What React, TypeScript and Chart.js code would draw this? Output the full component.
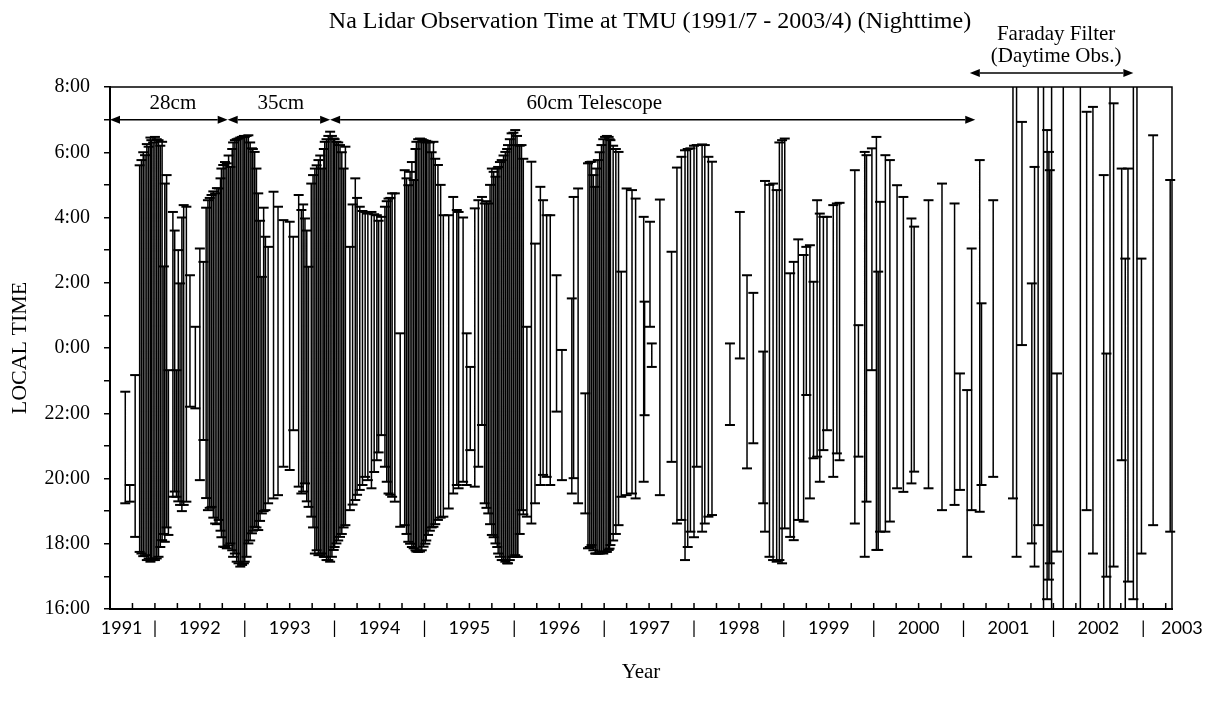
import React, { useEffect, useRef } from 'react';
import { Chart, registerables } from 'chart.js';

Chart.register(...registerables);

// Observation nights: date (decimal year), start and end hour
// (hours after midnight of the evening's date; values above 24 are the next morning)
const obsDate = [
  1991.67, 1991.72, 1991.78, 1991.85, 1991.89, 1991.93, 1991.96, 1992.00, 1992.04, 1992.08,
  1992.11, 1992.15, 1992.20, 1992.24, 1992.28, 1992.32, 1992.35, 1992.39, 1992.45, 1992.50,
  1992.54, 1992.59, 1992.63, 1992.67, 1992.71, 1992.76, 1992.80, 1992.84, 1992.89, 1992.93,
  1992.97, 1993.00, 1993.04, 1993.08, 1993.11, 1993.15, 1993.19, 1993.23, 1993.26, 1993.32,
  1993.37, 1993.43, 1993.50, 1993.54, 1993.60, 1993.63, 1993.67, 1993.71, 1993.74, 1993.78,
  1993.82, 1993.86, 1993.89, 1993.95, 1993.99, 1994.02, 1994.06, 1994.12, 1994.17, 1994.23,
  1994.28, 1994.34, 1994.37, 1994.41, 1994.47, 1994.52, 1994.56, 1994.60, 1994.64, 1994.67,
  1994.73, 1994.78, 1994.82, 1994.88, 1994.91, 1994.95, 1994.99, 1995.04, 1995.10, 1995.15,
  1995.21, 1995.27, 1995.32, 1995.36, 1995.38, 1995.47, 1995.51, 1995.56, 1995.60, 1995.64,
  1995.67, 1995.71, 1995.75, 1995.79, 1995.82, 1995.86, 1995.90, 1995.93, 1995.97, 1996.01,
  1996.04, 1996.08, 1996.14, 1996.19, 1996.23, 1996.29, 1996.32, 1996.36, 1996.40, 1996.47,
  1996.53, 1996.64, 1996.66, 1996.71, 1996.79, 1996.82, 1996.86, 1996.90, 1996.93, 1996.97,
  1997.01, 1997.05, 1997.07, 1997.16, 1997.19, 1997.25, 1997.31, 1997.35, 1997.44, 1997.45,
  1997.51, 1997.53, 1997.62, 1997.75, 1997.81, 1997.86, 1997.90, 1997.96, 1998.03, 1998.09,
  1998.12, 1998.16, 1998.20, 1998.40, 1998.51, 1998.59, 1998.66, 1998.77, 1998.79, 1998.88,
  1998.92, 1998.98, 1999.01, 1999.07, 1999.11, 1999.16, 1999.22, 1999.25, 1999.29, 1999.33,
  1999.37, 1999.40, 1999.44, 1999.48, 1999.55, 1999.59, 1999.62, 1999.79, 1999.83, 1999.90,
  1999.92, 1999.98, 2000.03, 2000.05, 2000.07, 2000.13, 2000.18, 2000.26, 2000.33, 2000.42,
  2000.45, 2000.61, 2000.76, 2000.90, 2000.96, 2001.04, 2001.09, 2001.18, 2001.20, 2001.33,
  2001.55, 2001.59, 2001.65, 2001.76, 2001.79, 2001.83, 2001.89, 2001.93, 2001.95, 2001.96,
  2001.98, 2002.04, 2002.11, 2002.30, 2002.37, 2002.44, 2002.56, 2002.59, 2002.63, 2002.67,
  2002.76, 2002.80, 2002.83, 2002.89, 2002.93, 2002.98, 2003.11, 2003.30,
  // nights inside the dense winter clusters
  1991.83, 1991.87, 1991.91, 1991.95, 1991.98, 1992.02, 1992.06, 1992.10, 1992.13, 1992.22,
  1992.26, 1992.30, 1992.57, 1992.61, 1992.65, 1992.69, 1992.73, 1992.74, 1992.78, 1992.82,
  1992.86, 1992.87, 1992.91, 1992.95, 1992.99, 1993.02, 1993.06, 1993.09, 1993.13, 1993.17,
  1993.21, 1993.65, 1993.69, 1993.76, 1993.80, 1993.84, 1993.88, 1993.91, 1993.93, 1993.97,
  1994.00, 1994.04, 1994.08, 1994.10, 1994.20, 1994.25, 1994.31, 1994.44, 1994.49, 1994.58,
  1994.62, 1994.80, 1994.84, 1994.86, 1994.90, 1994.93, 1994.97, 1995.01, 1995.02, 1995.06,
  1995.08, 1995.12, 1995.18, 1995.43, 1995.69, 1995.73, 1995.77, 1995.81, 1995.84, 1995.88,
  1995.92, 1995.95, 1995.99, 1996.03, 1996.06, 1996.10, 1996.84, 1996.88, 1996.91, 1996.95,
  1996.99, 1997.03, 1997.06, 1997.10, 1997.13, 1997.93, 1998.00, 1998.84, 1998.95,
];

const obsStart = [
  19.24, 19.29, 18.21, 17.70, 17.65, 17.55, 17.50, 17.50, 17.60, 18.11,
  18.06, 18.27, 19.44, 19.44, 19.19, 19.19, 19.29, 22.20, 22.15, 19.95,
  21.18, 19.03, 19.13, 18.62, 18.73, 17.91, 17.86, 18.01, 17.70, 17.40,
  17.35, 17.45, 18.01, 18.32, 18.52, 18.42, 18.93, 19.03, 19.24, 19.39,
  19.49, 20.36, 20.26, 21.48, 19.75, 19.54, 19.85, 19.13, 18.83, 17.70,
  17.65, 17.70, 17.60, 17.45, 17.81, 18.01, 18.21, 18.57, 19.03, 19.34,
  19.65, 20.05, 19.95, 19.70, 20.56, 21.33, 20.36, 19.54, 19.44, 19.29,
  18.52, 18.57, 18.06, 17.86, 17.76, 17.76, 17.91, 18.27, 18.52, 18.73,
  18.83, 19.08, 19.54, 19.80, 19.70, 19.80, 20.87, 19.75, 20.36, 21.64,
  19.24, 18.93, 18.27, 18.01, 17.70, 17.50, 17.45, 17.40, 17.60, 17.65,
  17.60, 19.03, 18.83, 18.62, 19.24, 19.80, 20.11, 20.05, 19.80, 22.05,
  19.95, 19.54, 20.01, 19.24, 18.93, 17.86, 17.96, 17.70, 17.70, 17.76,
  17.76, 17.81, 17.96, 18.57, 19.44, 19.49, 19.54, 19.39, 19.90, 21.94,
  24.65, 23.42, 19.49, 20.51, 18.62, 18.73, 17.50, 18.37, 20.36, 18.37,
  18.62, 18.83, 18.88, 21.64, 23.68, 20.31, 21.08, 19.24, 18.37, 17.50,
  17.45, 17.40, 18.47, 18.21, 18.11, 18.73, 18.68, 22.56, 19.39, 20.62,
  20.67, 19.90, 20.87, 21.48, 20.05, 20.77, 20.56, 18.62, 20.67, 17.60,
  19.29, 23.32, 17.81, 17.81, 18.37, 18.37, 18.68, 19.70, 19.59, 19.85,
  20.21, 19.70, 19.03, 19.19, 19.65, 17.60, 19.03, 18.98, 19.80, 20.05,
  19.39, 17.60, 24.09, 18.01, 17.30, 18.57, 15.00, 16.30, 16.90, 17.40,
  15.00, 17.76, 15.00, 15.00, 19.03, 17.70, 15.00, 16.99, 15.00, 17.30,
  20.56, 15.00, 16.84, 16.30, 15.00, 17.70, 18.57, 18.37,
  17.75, 17.62, 17.50, 17.45, 17.50, 17.55, 17.90, 18.30, 18.50, 19.60,
  19.30, 19.00, 19.40, 19.10, 18.80, 18.60, 18.40, 18.20, 17.90, 17.95,
  17.80, 17.60, 17.45, 17.30, 17.40, 17.60, 18.10, 18.40, 18.50, 18.70,
  19.00, 19.60, 19.30, 18.50, 17.80, 17.70, 17.60, 17.50, 17.50, 17.60,
  17.90, 18.10, 18.30, 18.50, 19.20, 19.50, 19.80, 20.20, 20.80, 19.90,
  19.50, 18.30, 18.00, 17.90, 17.80, 17.75, 17.80, 18.00, 18.10, 18.40,
  18.50, 18.60, 18.80, 19.90, 19.10, 18.60, 18.20, 17.90, 17.60, 17.50,
  17.40, 17.50, 17.60, 17.60, 18.30, 18.90, 17.90, 17.80, 17.70, 17.70,
  17.70, 17.75, 17.85, 18.10, 18.30, 17.90, 18.20, 17.60, 17.50,
];

const obsEnd = [
  22.66, 19.80, 23.17, 29.76, 29.91, 30.17, 30.37, 30.47, 30.37, 30.32,
  29.04, 23.32, 28.17, 23.32, 25.98, 28.38, 28.33, 26.23, 24.65, 27.05,
  26.64, 28.53, 28.69, 28.74, 28.89, 29.61, 29.66, 29.55, 30.37, 30.42,
  30.47, 30.47, 30.52, 30.12, 30.01, 28.74, 26.18, 27.41, 27.10, 28.79,
  28.33, 27.92, 27.87, 27.41, 28.69, 28.23, 27.97, 26.49, 29.04, 29.50,
  29.76, 29.50, 30.32, 30.63, 30.42, 30.32, 30.22, 30.17, 27.10, 29.20,
  28.33, 28.17, 28.12, 28.17, 28.07, 28.02, 28.33, 28.58, 28.74, 28.74,
  24.45, 29.45, 28.99, 29.15, 30.32, 30.42, 30.37, 30.32, 30.32, 29.61,
  28.07, 28.07, 28.63, 28.23, 28.17, 24.45, 23.42, 28.28, 28.53, 28.63,
  28.43, 28.43, 29.50, 29.25, 29.55, 29.76, 30.01, 30.22, 30.58, 30.68,
  30.22, 30.22, 24.65, 29.71, 27.20, 28.94, 28.53, 28.07, 28.07, 26.23,
  23.94, 25.52, 28.63, 28.89, 22.61, 29.66, 29.71, 28.94, 29.76, 30.22,
  30.47, 30.47, 30.37, 30.01, 26.34, 28.89, 28.84, 28.58, 28.02, 25.42,
  27.87, 24.14, 28.55, 26.95, 29.53, 29.86, 30.06, 30.12, 30.22, 30.24,
  30.22, 29.86, 29.71, 24.14, 28.17, 26.23, 25.69, 23.89, 29.12, 29.04,
  28.84, 30.37, 30.42, 26.29, 26.64, 27.33, 26.85, 27.10, 27.15, 26.03,
  28.53, 28.12, 28.02, 28.02, 28.38, 28.43, 28.45, 29.45, 24.70, 30.01,
  29.91, 30.12, 30.47, 26.34, 28.48, 29.91, 29.76, 28.99, 28.63, 27.97,
  27.72, 28.53, 29.04, 28.43, 23.22, 22.71, 27.05, 29.76, 25.37, 28.53,
  33.00, 33.00, 30.93, 25.98, 29.55, 33.00, 33.00, 30.68, 30.01, 29.45,
  33.00, 23.22, 33.00, 33.00, 31.24, 31.39, 29.30, 23.83, 33.00, 31.50,
  29.50, 26.74, 29.50, 33.00, 33.00, 26.74, 30.52, 29.15,
  29.60, 30.00, 30.25, 30.45, 30.30, 30.40, 30.20, 26.50, 29.30, 27.60,
  27.00, 28.00, 28.30, 28.60, 28.80, 28.90, 29.20, 29.50, 29.70, 29.90,
  30.10, 30.30, 30.40, 30.45, 30.50, 30.50, 30.30, 30.10, 29.50, 27.90,
  28.30, 28.40, 27.60, 29.30, 29.60, 29.90, 30.10, 30.40, 30.50, 30.50,
  30.40, 30.30, 30.00, 29.50, 28.40, 28.60, 28.20, 28.10, 27.90, 28.50,
  28.60, 29.20, 29.40, 29.70, 30.10, 30.40, 30.40, 30.30, 30.35, 30.30,
  30.00, 29.80, 29.00, 28.00, 28.50, 29.00, 29.40, 29.50, 29.70, 29.90,
  30.10, 30.40, 30.60, 30.50, 30.20, 29.80, 29.70, 29.30, 29.50, 30.00,
  30.40, 30.50, 30.40, 30.20, 30.10, 30.10, 30.20, 29.00, 30.30,
];

// Axis labels
const yearLabels = ['1991', '1992', '1993', '1994', '1995', '1996', '1997', '1998', '1999', '2000', '2001', '2002', '2003'];
const yearLabelPos = [1991.63, 1992.5, 1993.5, 1994.5, 1995.5, 1996.5, 1997.5, 1998.5, 1999.5, 2000.5, 2001.5, 2002.5, 2003.43];
const yearSeparators = [1992, 1993, 1994, 1995, 1996, 1997, 1998, 1999, 2000, 2001, 2002, 2003];

// Telescope period annotations
const periodLabels = ['28cm', '35cm', '60cm Telescope'];
const periodFrom = [1991.5, 1992.81, 1993.95];
const periodTo = [1992.81, 1993.95, 2001.13];
const periodLabelAt = [1992.2, 1993.4, 1996.89];
const faradayLines = ['Faraday Filter', '(Daytime Obs.)'];
const faradayFrom = 2001.07;
const faradayTo = 2002.89;
const faradayLabelAt = 2002.03;

const TITLE = 'Na Lidar Observation Time at TMU (1991/7 - 2003/4) (Nighttime)';
const SERIF = "'Liberation Serif', 'Times New Roman', serif";

const X_MIN = 1991.5;
const X_MAX = 2003.32;

export default function App() {
  const ref = useRef<HTMLCanvasElement | null>(null);

  useEffect(() => {
    if (!ref.current) return;

    const points: { x: number; y: number | null }[] = [];
    obsDate.forEach((d, i) => {
      points.push({ x: d, y: obsStart[i] }, { x: d, y: obsEnd[i] }, { x: d, y: null });
    });

    const labelMap = new Map<number, string>();
    yearLabelPos.forEach((v, i) => labelMap.set(v, yearLabels[i]));
    yearSeparators.forEach((v) => labelMap.set(v, '|'));
    const xTickValues = [...labelMap.keys()].sort((a, b) => a - b);

    const quarterTicks: number[] = [];
    for (let q = X_MIN; q <= X_MAX + 1e-6; q += 0.25) quarterTicks.push(q);

    const overlay = {
      id: 'overlay',
      afterDraw(chart: any) {
        const { ctx, chartArea: ca } = chart;
        const xs = chart.scales.x;
        const ys = chart.scales.y;
        ctx.save();
        ctx.strokeStyle = '#000';
        ctx.fillStyle = '#000';

        // frame top/right
        ctx.lineWidth = 1.5;
        ctx.beginPath();
        ctx.moveTo(ca.left, ca.top);
        ctx.lineTo(ca.right, ca.top);
        ctx.lineTo(ca.right, ca.bottom);
        ctx.stroke();

        // inward minor ticks on the x axis
        ctx.lineWidth = 1.5;
        quarterTicks.forEach((q) => {
          const px = xs.getPixelForValue(q);
          ctx.beginPath();
          ctx.moveTo(px, ca.bottom);
          ctx.lineTo(px, ca.bottom - 6);
          ctx.stroke();
        });

        const arrow = (x1: number, x2: number, py: number) => {
          const L = 10, H = 4;
          ctx.lineWidth = 1.5;
          ctx.beginPath();
          ctx.moveTo(x1 + L, py);
          ctx.lineTo(x2 - L, py);
          ctx.stroke();
          ctx.beginPath();
          ctx.moveTo(x1, py);
          ctx.lineTo(x1 + L, py - H);
          ctx.lineTo(x1 + L, py + H);
          ctx.closePath();
          ctx.fill();
          ctx.beginPath();
          ctx.moveTo(x2, py);
          ctx.lineTo(x2 - L, py - H);
          ctx.lineTo(x2 - L, py + H);
          ctx.closePath();
          ctx.fill();
        };

        // telescope periods
        const pyArrow = ys.getPixelForValue(31);
        const pyText = ys.getPixelForValue(31.48);
        ctx.font = `21px ${SERIF}`;
        ctx.textAlign = 'center';
        ctx.textBaseline = 'middle';
        periodLabels.forEach((lab, i) => {
          arrow(xs.getPixelForValue(periodFrom[i]), xs.getPixelForValue(periodTo[i]), pyArrow);
          ctx.fillText(lab, xs.getPixelForValue(periodLabelAt[i]), pyText);
        });

        // faraday filter
        arrow(xs.getPixelForValue(faradayFrom), xs.getPixelForValue(faradayTo), ys.getPixelForValue(32.43));
        ctx.font = `21px ${SERIF}`;
        ctx.fillText(faradayLines[0], xs.getPixelForValue(faradayLabelAt), ys.getPixelForValue(33.6));
        ctx.fillText(faradayLines[1], xs.getPixelForValue(faradayLabelAt), ys.getPixelForValue(32.93));

        // title
        ctx.font = `24px ${SERIF}`;
        ctx.fillText(TITLE, 650, 22);

        ctx.restore();
      },
    };

    const chart = new Chart(ref.current, {
      type: 'line',
      data: {
        datasets: [
          {
            data: points as any,
            borderColor: '#000',
            borderWidth: 1.5,
            pointStyle: 'line',
            pointRadius: 5,
            pointBorderWidth: 2,
            pointBorderColor: '#000',
            pointBackgroundColor: '#000',
            spanGaps: false,
            tension: 0,
            fill: false,
            clip: { left: 0, top: 0, right: 6, bottom: 0 } as any,
          },
        ],
      },
      options: {
        responsive: false,
        animation: false,
        events: [],
        layout: { padding: { top: 87, right: 33, left: 0, bottom: 0 } },
        plugins: {
          legend: { display: false },
          tooltip: { enabled: false },
          title: { display: false },
        },
        scales: {
          x: {
            type: 'linear',
            min: X_MIN,
            max: X_MAX,
            afterBuildTicks: (scale: any) => {
              scale.ticks = xTickValues.map((v) => ({ value: v }));
            },
            afterFit: (scale: any) => {
              scale.height = 96;
              scale.paddingLeft = 0;
              scale.paddingRight = 0;
            },
            ticks: {
              autoSkip: false,
              maxRotation: 0,
              minRotation: 0,
              padding: 8,
              color: '#000',
              font: { family: 'Lato', size: 18 },
              callback: (v: any) => labelMap.get(Number(v)) ?? '',
            },
            grid: { display: true, drawOnChartArea: false, drawTicks: false },
            border: { display: true, color: '#000', width: 2 },
            title: {
              display: true,
              text: 'Year',
              color: '#000',
              font: { family: SERIF, size: 21 },
              padding: { top: 0, bottom: 20 },
            },
          },
          y: {
            type: 'linear',
            min: 16,
            max: 32,
            afterFit: (scale: any) => {
              scale.width = 110;
            },
            ticks: {
              stepSize: 1,
              autoSkip: false,
              padding: 14,
              color: '#000',
              font: { family: SERIF, size: 20 },
              callback: (v: any) => (Number(v) % 2 === 0 ? `${Number(v) % 24}:00` : ''),
            },
            grid: { display: true, drawOnChartArea: false, drawTicks: true, tickLength: 6, color: '#000', lineWidth: 1.5 },
            border: { display: true, color: '#000', width: 2 },
            title: {
              display: true,
              text: 'LOCAL TIME',
              color: '#000',
              font: { family: SERIF, size: 22 },
              padding: { top: 7, bottom: 0 },
            },
          },
        },
      },
      plugins: [overlay],
    });

    return () => chart.destroy();
  }, []);

  return (
    <div style={{ position: 'fixed', left: 0, top: 0, width: 1205, height: 705, background: '#fff' }}>
      <canvas ref={ref} width={1205} height={705} style={{ width: 1205, height: 705, display: 'block' }} />
    </div>
  );
}
